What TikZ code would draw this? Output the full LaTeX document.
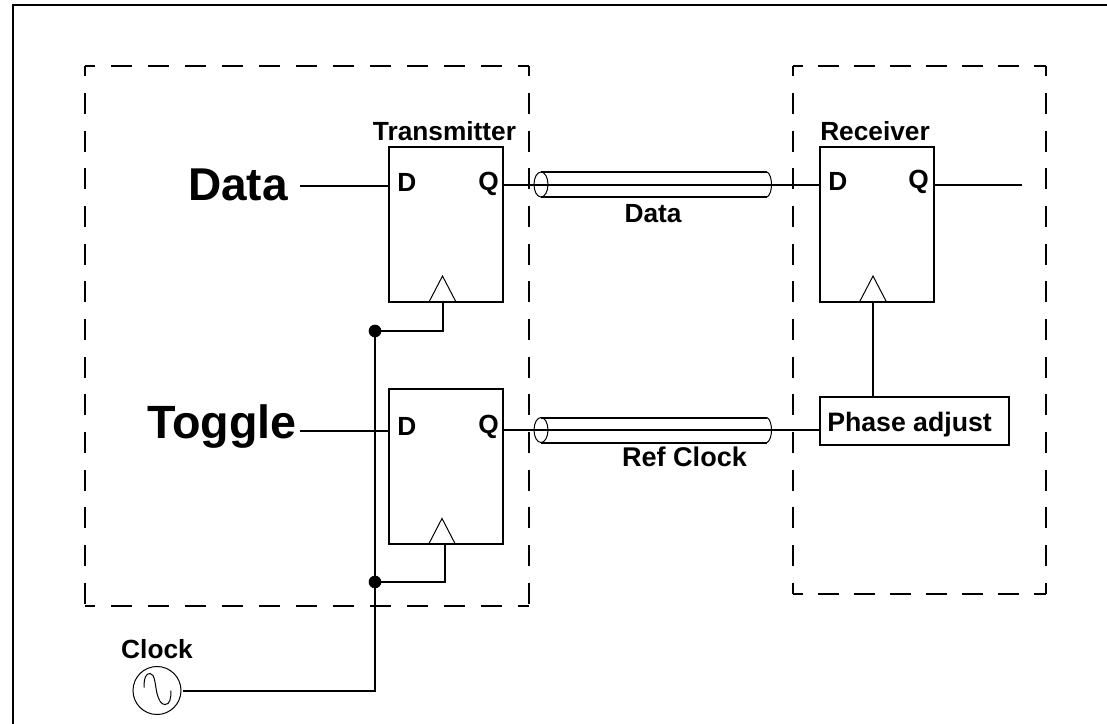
\documentclass[tikz,border=0pt]{standalone}
\usepackage{fontspec}
\setmainfont{Liberation Sans}
\usetikzlibrary{shapes.geometric, positioning, calc}

\begin{document}
\begin{tikzpicture}[
    x=0.75pt, y=-0.75pt,
    font=\bfseries\fontsize{19.7pt}{23pt}\selectfont,
    wire/.style={line width=1.5pt},
    thinwire/.style={line width=0.75pt},
    dashside/.style={line width=1.5pt, dash pattern=on 15.75pt off #1, dash phase=7.9pt},
    ffbox/.style={draw, line width=1.5pt, outer sep=0pt, minimum width=85.5pt, minimum height=116.25pt},
    adjbox/.style={draw, line width=1.5pt, outer sep=0pt, minimum width=141.75pt, minimum height=36pt},
    cableend/.style={draw, ellipse, line width=0.75pt, inner sep=0pt, outer sep=0pt, minimum width=10.5pt, minimum height=18.75pt},
    dot/.style={circle, fill=black, inner sep=0pt, outer sep=0pt, minimum size=9.5pt},
    biglbl/.style={anchor=base east, inner xsep=#1},
    pinlbl/.style={anchor=base west, inner sep=0pt},
  ]
    \useasboundingbox (0,0) rectangle (1107,724);

    % Outer frame, open to the right and below
    \draw[wire] (13,724) -- (13,5.5) -- (1107,5.5);

    % Dashed enclosures
    \draw[dashside=12pt] (85,66) -- (528.5,66);
    \draw[dashside=12pt] (85,605.5) -- (528.5,605.5);
    \draw[dashside=12.5pt] (85,66) -- (85,605.5);
    \draw[dashside=12.5pt] (528.5,66) -- (528.5,605.5);
    \draw[dashside=11.25pt] (793,66) -- (1046,66);
    \draw[dashside=11.25pt] (793,594) -- (1046,594);
    \draw[dashside=12.5pt] (793,66) -- (793,594);
    \draw[dashside=12.5pt] (1046,66) -- (1046,594);

    % Flip-flops
    \node[ffbox] (txff) at (446,224.5) {};
    \node[ffbox, below=65.6pt of txff] (tgff) {};
    \node[ffbox, right=237.75pt of txff] (rxff) {};
    \node[adjbox, below=71.5pt of rxff.south west, anchor=north west] (adj) {};

    % Titles and pin letters
    \node[anchor=base, inner sep=0pt] (txlbl) at (444.5,140) {Transmitter};
    \node[anchor=base west, inner sep=0pt] (rxlbl) at (820,140) {Receiver};
    \node[pinlbl] (txD) at ($(txff.north west)+(8,44)$) {D};
    \node[pinlbl] (txQ) at ($(txff.north west)+(89,43)$) {Q};
    \node[pinlbl] (tgD) at ($(tgff.north west)+(8,46)$) {D};
    \node[pinlbl] (tgQ) at ($(tgff.north west)+(89,44)$) {Q};
    \node[pinlbl] (rxD) at ($(rxff.north west)+(8,43)$) {D};
    \node[pinlbl] (rxQ) at ($(rxff.north west)+(88,41)$) {Q};
    \node[pinlbl, font=\bfseries\fontsize{20pt}{23pt}\selectfont] (adjlbl) at ($(adj.north west)+(7,34)$) {Phase adjust};

    % Inputs
    \node[biglbl=9pt, font=\bfseries\fontsize{34.5pt}{40pt}\selectfont] (datalbl) at (300,200) {Data};
    \node[biglbl=2.25pt, font=\bfseries\fontsize{35pt}{40pt}\selectfont] (togglelbl) at (300,438) {Toggle};

    % Cables
    \node[cableend] (dataend) at (541,184.5) {};
    \node[cableend] (refend) at (541,430) {};
    \node[anchor=base, inner sep=0pt, below=5pt of dataend.south, xshift=84pt] (datacap) {Data};
    \node[anchor=base, inner sep=0pt, font=\bfseries\fontsize{20.3pt}{23pt}\selectfont] (refcap) at (684.5,466) {Ref Clock};
    \foreach \cab in {dataend, refend} {
      \draw[wire] (\cab.north) -- ++(226,0);
      \draw[wire] (\cab.south) -- ++(226,0);
      \draw[thinwire] ($(\cab.north)+(226,0)$) .. controls +(6,3) and +(6,-3) .. ($(\cab.south)+(226,0)$);
    }

    % Clock inputs
    \coordinate (txclk) at ($(txff.south west)+(53.5,0)$);
    \coordinate (tgclk) at ($(tgff.south west)+(53,0)$);
    \coordinate (tgtap) at ($(tgff.south west)+(56,0)$);
    \coordinate (rxclk) at ($(rxff.south west)+(53,0)$);
    \foreach \clkin in {txclk, tgclk, rxclk} {
      \draw[thinwire] (\clkin) ++(-13.5,0) -- ++(13.5,-26) -- ++(13.5,26);
    }

    % Clock source
    \node[circle, draw, line width=0.75pt, inner sep=0pt, outer sep=1.5pt, minimum size=36pt] (clk) at (157,690.5) {};
    \node[anchor=base, inner sep=0pt] (clklbl) at (157,658) {Clock};
    \draw[thinwire, shift={(157,690.5)}] (-13,-3) .. controls (-13,-13) and (-11,-17) .. (-7,-17)
      .. controls (-2,-17) and (-2,-6) .. (0,3)
      .. controls (2,10) and (4,14) .. (8,14)
      .. controls (13,14) and (14,8) .. (14,0);
    \node[dot] (topdot) at (375,331) {};
    \node[dot] (botdot) at (375,582) {};

    % Wires
    \coordinate (rxout) at (1022,185);
    \draw[wire] (clk.east) -| (topdot);
    \draw[wire] (topdot) -| (txclk);
    \draw[wire] (botdot) -| (tgtap);
    \draw[wire] (datalbl.east |- 0,186) -- (txff.west |- 0,186);
    \draw[wire] (togglelbl.east |- 0,431) -- (tgff.west |- 0,431);
    \draw[wire] (txff.east |- dataend) -- (rxff.west |- dataend);
    \draw[wire] (tgff.east |- refend) -- (adj.west |- refend);
    \draw[wire] (rxff.east |- rxout) -- (rxout);
    \draw[wire] (rxclk) -- (rxclk |- adj.north);
\end{tikzpicture}
\end{document}
